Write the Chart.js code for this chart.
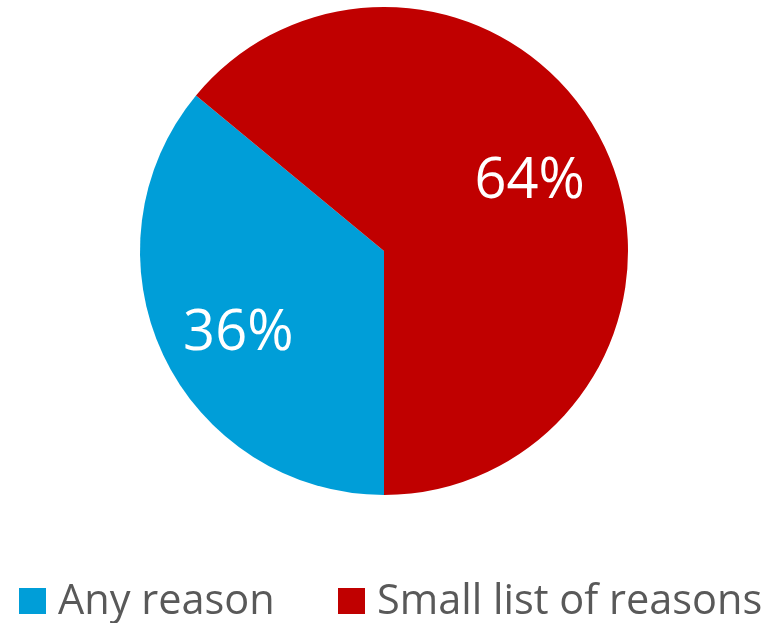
<!DOCTYPE html>
<html>
<head>
<meta charset="utf-8">
<script src="https://cdn.jsdelivr.net/npm/chart.js@4"></script>
<style>
  html, body { margin: 0; padding: 0; background: #fff; }
  #wrap { width: 768px; height: 623px; }
</style>
</head>
<body>
<div id="wrap"><canvas id="pieChart" width="768" height="623"></canvas></div>
<script>
const categories = ["Any reason", "Small list of reasons"];
const shares = [36, 64];
const sliceColors = ["#009ED8", "#C00000"];

// percent text inside each slice
const sliceLabels = {
  id: "sliceLabels",
  afterDatasetsDraw(chart) {
    const ctx = chart.ctx;
    const meta = chart.getDatasetMeta(0);
    ctx.save();
    ctx.fillStyle = "#ffffff";
    ctx.font = "56px 'Open Sans'";
    ctx.textAlign = "center";
    ctx.textBaseline = "middle";
    meta.data.forEach((arc, i) => {
      const mid = (arc.startAngle + arc.endAngle) / 2;
      const r = arc.outerRadius * 0.66;
      const x = arc.x + Math.cos(mid) * r;
      const y = arc.y + Math.sin(mid) * r + (i === 0 ? 14 : 0);
      ctx.fillText(shares[i] + "%", x, y);
    });
    ctx.restore();
  }
};

// legend drawn by hand so it sits where the original one does
const bottomLegend = {
  id: "bottomLegend",
  afterDraw(chart) {
    const ctx = chart.ctx;
    const starts = [19, 338];
    ctx.save();
    ctx.font = "41.5px 'Open Sans'";
    ctx.textBaseline = "alphabetic";
    ctx.textAlign = "left";
    categories.forEach((name, i) => {
      ctx.fillStyle = sliceColors[i];
      ctx.fillRect(starts[i], 588, 27, 26);
      ctx.fillStyle = "#595959";
      ctx.fillText(name, starts[i] + 39, 614);
    });
    ctx.restore();
  }
};

new Chart(document.getElementById("pieChart"), {
  type: "pie",
  data: {
    labels: categories,
    datasets: [
      {
        data: shares,
        backgroundColor: sliceColors,
        borderWidth: 0
      }
    ]
  },
  options: {
    responsive: false,
    animation: false,
    rotation: 180,
    layout: { padding: { top: 7, bottom: 128 } },
    plugins: {
      legend: { display: false },
      tooltip: { enabled: false }
    }
  },
  plugins: [sliceLabels, bottomLegend]
});
</script>
</body>
</html>
